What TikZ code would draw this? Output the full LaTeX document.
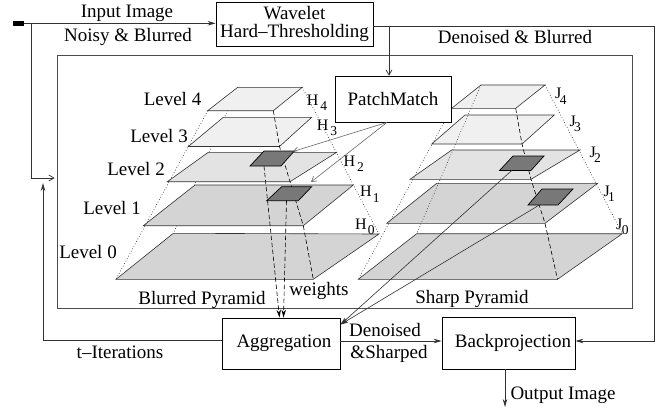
\documentclass[tikz,border=0pt]{standalone}
\usepackage{fontspec}
\setmainfont{Liberation Serif}
\usetikzlibrary{arrows.meta}
\newcommand\pyrsub[3]{#1\kern#3\raisebox{-5.5pt}{\fontsize{13.5}{13.5}\selectfont #2}}
\begin{document}
\begin{tikzpicture}[x=1pt,y=-1pt,
  font=\fontsize{19}{19}\selectfont,
  box/.style={draw=black, fill=white, line width=0.8pt, inner sep=0pt, align=center},
  framebox/.style={draw=black!70, line width=0.8pt, inner sep=0pt},
  conn/.style={draw=black!80, line width=0.75pt},
  arrfill/.style={-{Stealth[length=8pt,width=4.5pt]}},
  arropen/.style={-{Straight Barb[length=5pt,width=6pt]}},
  plane/.style={draw=black!80, line width=0.6pt},
  lightpl/.style={plane, fill=black!6},
  midpl/.style={plane, fill=black!11},
  darkpl/.style={plane, fill=black!17},
  patch/.style={draw=black, line width=0.7pt, fill=black!53},
  dots/.style={draw=black!80, line width=0.6pt, dash pattern=on 0.8pt off 2pt},
  dashes/.style={draw=black, line width=0.6pt, dash pattern=on 4.5pt off 2.5pt},
  lbl/.style={anchor=base, inner sep=0pt},
  pyl/.style={anchor=base west, inner sep=0pt, font=\fontsize{16}{16}\selectfont}
]
\useasboundingbox (0,0) rectangle (661,416);

% frame
\node[framebox, minimum width=575pt, minimum height=253pt] (frame) at (344.5,181.5) {};

% ---------- left (blurred) pyramid ----------
\draw[dots] (237.7,87.3) -- (173.3,233.3);
\draw[dots] (302.3,87.3) -- (379,234);
\draw[lightpl] (237.7,87.3) -- (302.3,87.3) -- (273.3,110.7) -- (207.7,110.7) -- cycle;
\draw[lightpl] (223.3,117.3) -- (311.7,117.3) -- (279.5,146.5) -- (188.3,146.5) -- cycle;
\draw[midpl] (208.3,152.3) -- (336.7,152.3) -- (290,181.7) -- (167.3,181.7) -- cycle;
\draw[darkpl] (195,185) -- (353.3,185) -- (303.3,225.7) -- (143.3,225.7) -- cycle;
\draw[darkpl] (173.3,233.3) -- (379,234) -- (313.3,279.3) -- (116,279.3) -- cycle;
\draw[dots] (207.7,110.7) -- (116,279.3);
\draw[dashes] (273.3,110.7) -- (279.5,146.5) -- (290,181.7) -- (303.3,225.7) -- (313.3,279.3);
\draw[patch] (264,151) -- (294.3,151) -- (281,166) -- (250,166) -- cycle;
\draw[patch] (281.7,186.7) -- (311.7,186.7) -- (298.3,200.7) -- (266.7,200.7) -- cycle;

% ---------- right (sharp) pyramid ----------
\draw[lightpl] (481,85) -- (545,85) -- (515.7,108.3) -- (451.7,108.3) -- cycle;
\draw[lightpl] (465,115) -- (554.3,115) -- (522,144) -- (431.7,144) -- cycle;
\draw[midpl] (451.7,150) -- (580,150) -- (531,179.3) -- (410,179.3) -- cycle;
\draw[darkpl] (436.7,183.3) -- (597.7,183.3) -- (545,223.3) -- (386.7,223.3) -- cycle;
\draw[darkpl] (416.7,233.7) -- (622.3,233.7) -- (557.5,279.3) -- (358.3,279.3) -- cycle;
\draw[dots] (481,85) -- (416.7,233.7);
\draw[dots] (545,85) -- (622.3,233.7);
\draw[dots] (451.7,108.3) -- (358.3,279.3);
\draw[dashes] (515.7,108.3) -- (522,144) -- (531,179.3) -- (545,223.3) -- (557.5,279.3);
\draw[patch] (513,156) -- (544,156) -- (531,170.5) -- (499.5,170.5) -- cycle;
\draw[patch] (542,189) -- (573,189) -- (558,205) -- (528,205) -- cycle;

% patch points
\coordinate (p2w) at (264,166);
\coordinate (p1w) at (286.5,200.7);
\coordinate (q2w) at (511.7,170.5);
\coordinate (q1w) at (539.3,205);
\coordinate (p2t) at (293,151.5);
\coordinate (p1t) at (311,182);

% ---------- boxes ----------
\node[box, minimum width=157pt, minimum height=44pt, font=\fontsize{19}{18.5}\selectfont] (wav) at (294.5,24) {Wavelet\\Hard–Thresholding};
\node[box, minimum width=116pt, minimum height=46pt] (pm) at (393,99) {PatchMatch};
\node[box, minimum width=118pt, minimum height=51pt] (agg) at (281,343.5) {\hspace*{6pt}Aggregation};
\node[box, minimum width=133pt, minimum height=52pt] (bp) at (508.5,343) {\hspace*{9pt}Backprojection};
\node[fill=black, inner sep=0pt, minimum width=11pt, minimum height=4.5pt] (src) at (18.5,23.3) {};

% ---------- connectors ----------
\coordinate (j0) at (31,23.3);
\coordinate (ti) at (43,183);
\coordinate (split) at (389,26);
\coordinate (rc) at (654,26);
\coordinate (out) at (505,407);

\draw[conn, arrfill] (src.east) -- (src.east -| wav.west);
\draw[conn, arropen, shorten >=2pt] (j0) |- ([yshift=3.5pt]frame.west);
\draw[conn, arrfill] ([yshift=3pt]agg.west) -| (ti);
\draw[conn] ([yshift=-2pt]wav.east) -- (split);
\draw[conn, arropen] (split) -- (split |- pm.north);
\draw[conn, arrfill] (split) -- (rc) |- ([yshift=2pt]bp.east);
\draw[conn, arrfill] ([yshift=2.5pt]agg.east) -- ([yshift=2.5pt]agg.east -| bp.west);
\draw[conn, arrfill] (bp.south -| out) -- (out);

\draw[dashes, arrfill] (p2w) -- ([xshift=-1.5pt]agg.north);
\draw[dashes, arrfill] (p1w) -- ([xshift=2.5pt]agg.north);
\draw[conn, line width=0.6pt, arrfill] (q2w) -- ([yshift=-7pt]agg.north east);
\draw[conn, line width=0.6pt, arrfill] (q1w) -- ([yshift=-7pt]agg.north east);
\draw[conn, draw=black!60, line width=0.6pt, arropen] ([xshift=-6pt]pm.south) -- (p2t);
\draw[conn, draw=black!60, line width=0.6pt, arropen] ([xshift=-6pt]pm.south) -- (p1t);

% ---------- labels ----------
\node[lbl] (tin) at (127,17) {Input Image};
\node[lbl] (tnb) at (128,41.5) {Noisy \& Blurred};
\node[lbl] (tdb) at (515,43) {Denoised \& Blurred};
\node[lbl] (tl4) at (172.5,105) {Level 4};
\node[lbl] (tl3) at (159,142.5) {Level 3};
\node[lbl] (tl2) at (136,175) {Level 2};
\node[lbl] (tl1) at (112,214) {Level 1};
\node[lbl] (tl0) at (88,258) {Level 0};
\node[lbl] (tbp) at (202,304) {Blurred Pyramid};
\node[lbl] (tw) at (319,295) {weights};
\node[lbl] (tsp) at (472,303) {Sharp Pyramid};
\node[lbl] (tden) at (385,336.5) {Denoised};
\node[lbl] (tshp) at (389,358) {\&Sharped};
\node[lbl] (tit) at (120,358) {t–Iterations};
\node[lbl] (tout) at (563,399) {Output Image};

\node[pyl] (h4) at (306.7,105) {\pyrsub{H}{4}{2pt}};
\node[pyl] (h3) at (316.7,130) {\pyrsub{H}{3}{2pt}};
\node[pyl] (h2) at (343.3,166) {\pyrsub{H}{2}{2pt}};
\node[pyl] (h1) at (360,196.7) {\pyrsub{H}{1}{1pt}};
\node[pyl] (h0) at (355,229.3) {\pyrsub{H}{0}{1pt}};
\node[pyl] (jj4) at (555,98.5) {\pyrsub{J}{4}{-1.5pt}};
\node[pyl] (jj3) at (569.3,126) {\pyrsub{J}{3}{-1.5pt}};
\node[pyl] (jj2) at (589.3,157.3) {\pyrsub{J}{2}{-1.5pt}};
\node[pyl] (jj1) at (603.3,196) {\pyrsub{J}{1}{-1.5pt}};
\node[pyl] (jj0) at (616,229.3) {\pyrsub{J}{0}{-0.5pt}};
\end{tikzpicture}
\end{document}
